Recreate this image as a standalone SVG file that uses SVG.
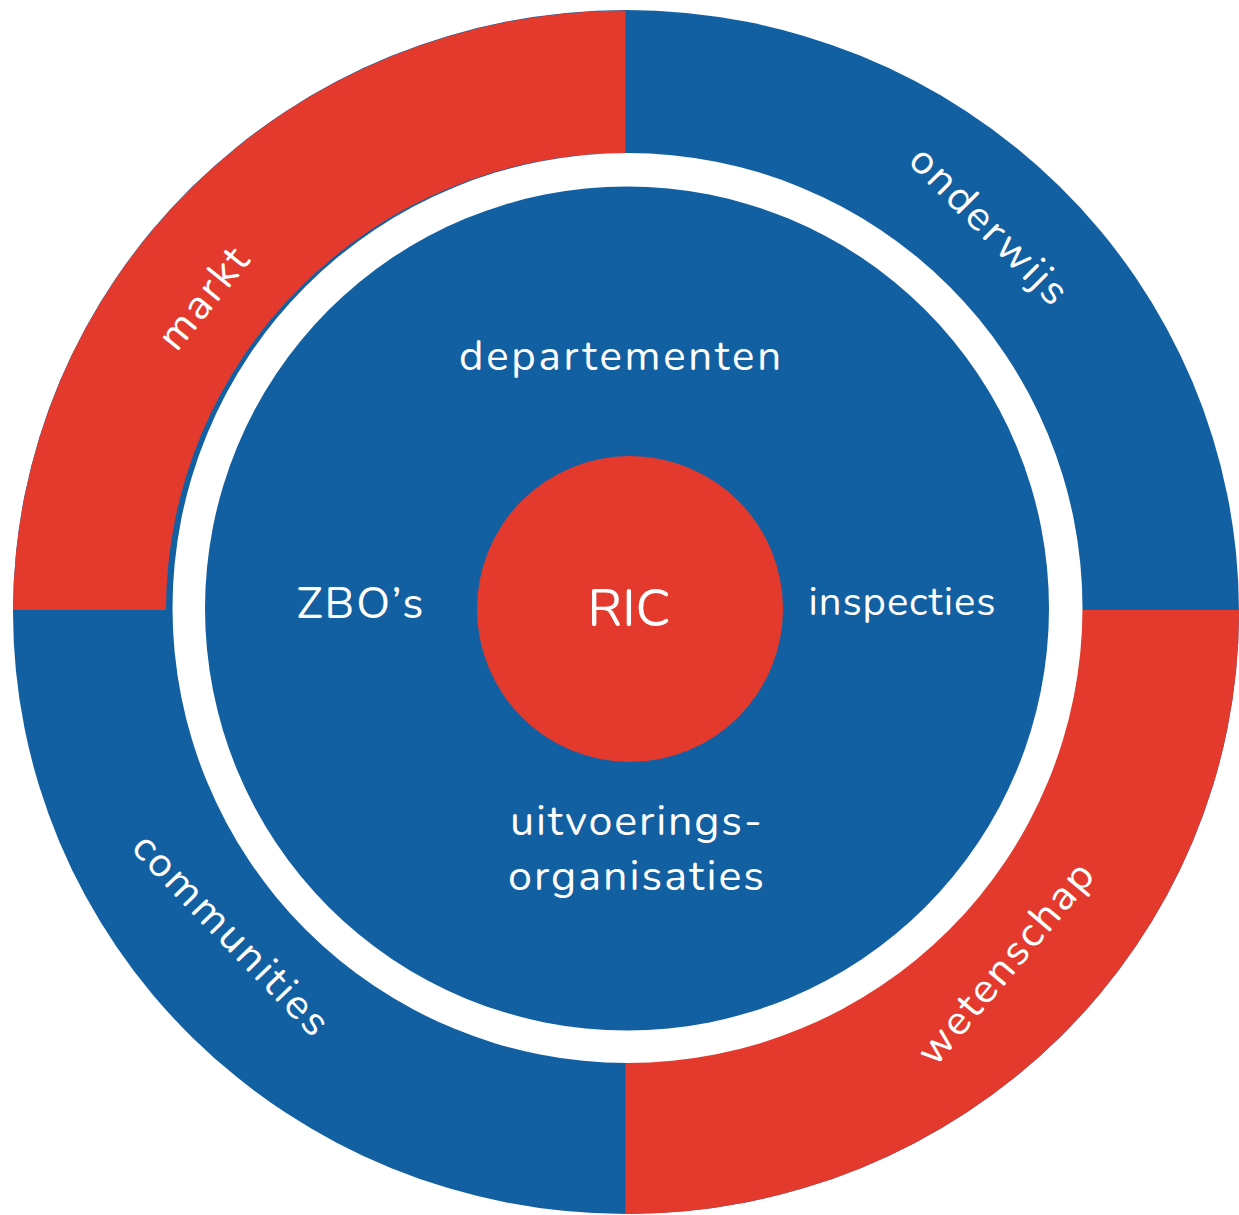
<svg xmlns="http://www.w3.org/2000/svg" width="1239" height="1215" viewBox="0 0 1239 1215">
<style>
.blue{fill:#1260A1}
.red{fill:#E33A2D}
.lbl{font-family:"Nunito","Open Sans","Noto Sans",sans-serif;fill:#fff;text-anchor:middle}
.rot{font-size:42px;letter-spacing:2.5px}
</style>
<rect width="1239" height="1215" fill="#fff"/>
<g id="outer-ring">
<ellipse class="blue" cx="626" cy="612" rx="613" ry="602"/>
<path id="markt-sector" class="red" d="M13,610 A613 602 0 0 1 625.5 10.5 L625.5 153 A460 457 0 0 0 166 610 Z"/>
<path id="wetenschap-sector" class="red" d="M625.5,610 L1239,610 A613 602 0 0 1 625.5 1214 Z"/>
</g>
<g id="white-ring"><circle cx="627.5" cy="608" r="455" fill="#fff"/></g>
<g id="inner-circle"><circle class="blue" cx="627" cy="608.5" r="422"/></g>
<g id="ric"><circle class="red" cx="630" cy="609" r="153"/>
<text class="lbl" x="629" y="626" font-size="52">RIC</text></g>
<g id="departementen"><text class="lbl" x="620" y="370" font-size="42" textLength="322" lengthAdjust="spacing">departementen</text></g>
<g id="zbos"><text class="lbl" x="360" y="618" font-size="44" textLength="127" lengthAdjust="spacing">ZBO’s</text></g>
<g id="inspecties"><text class="lbl" x="902" y="615" font-size="40" textLength="187" lengthAdjust="spacing">inspecties</text></g>
<g id="uitvoeringsorganisaties"><text class="lbl" font-size="43"><tspan x="636" y="835" textLength="252" lengthAdjust="spacing">uitvoerings-</tspan><tspan x="636" y="890" textLength="256" lengthAdjust="spacing">organisaties</tspan></text></g>
<g id="markt"><text class="lbl rot" transform="translate(206,299) rotate(-51)" y="11">markt</text></g>
<g id="onderwijs"><text class="lbl rot" transform="translate(988,228) rotate(45)" y="11">onderwijs</text></g>
<g id="communities"><text class="lbl rot" transform="translate(230,937) rotate(46)" y="11">communities</text></g>
<g id="wetenschap"><text class="lbl rot" transform="translate(1008,964) rotate(-50)" y="11">wetenschap</text></g>
</svg>
